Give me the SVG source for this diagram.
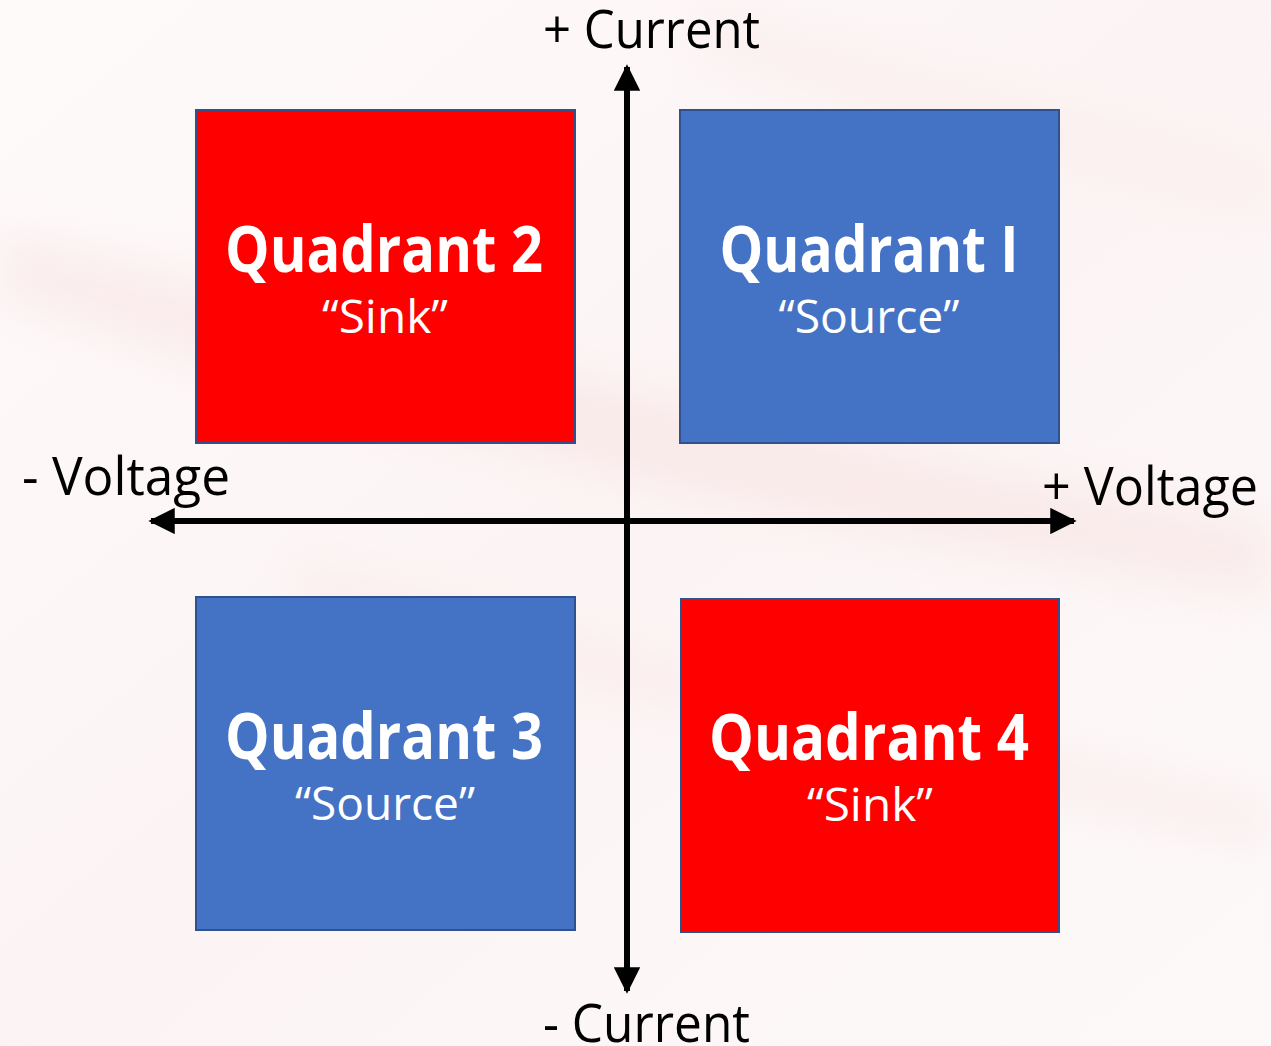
<svg xmlns="http://www.w3.org/2000/svg" width="1271" height="1046" viewBox="0 0 1271 1046">
  <defs>
    <linearGradient id="bg" x1="0" y1="0" x2="1" y2="1">
      <stop offset="0" stop-color="#fefafa"/>
      <stop offset="0.5" stop-color="#fcf4f4"/>
      <stop offset="1" stop-color="#fdf9f9"/>
    </linearGradient>
    <filter id="soft" x="-20%" y="-50%" width="140%" height="200%">
      <feGaussianBlur stdDeviation="20"/>
    </filter>
    <marker id="head" viewBox="0 0 10 10" refX="9" refY="5" markerWidth="4.4" markerHeight="4.4" orient="auto-start-reverse" markerUnits="strokeWidth">
      <path d="M0,0 L10,5 L0,10 z" fill="#000"/>
    </marker>
    <style>
      .box-red { fill: #ff0000; stroke: #2f528f; stroke-width: 2; }
      .box-blue { fill: #4472c4; stroke: #2f528f; stroke-width: 2; }
      .title { font-family: "Open Sans", "Noto Sans", sans-serif; font-weight: 700; font-size: 64px; fill: #ffffff; text-anchor: middle; }
      .sub { font-family: "Open Sans", "Noto Sans", sans-serif; font-weight: 400; font-size: 46px; fill: #ffffff; text-anchor: middle; }
      .axis-label { font-family: "Open Sans", "Noto Sans", sans-serif; font-weight: 400; font-size: 53px; fill: #000000; }
      .axis { stroke: #000; stroke-width: 6; fill: none; }
    </style>
  </defs>

  <!-- background with soft diagonal streaks -->
  <rect x="0" y="0" width="1271" height="1046" fill="url(#bg)"/>
  <g filter="url(#soft)" opacity="0.35">
    <path d="M0,230 C300,300 700,420 1271,520 L1271,600 C700,520 300,400 0,300 z" fill="#f5d8d8"/>
    <path d="M300,560 C600,640 900,720 1271,800 L1271,850 C900,770 600,690 300,610 z" fill="#f7e0e0"/>
    <path d="M700,0 C900,60 1100,120 1271,160 L1271,220 C1100,180 900,120 700,60 z" fill="#f9e6e6"/>
  </g>

  <!-- axes -->
  <g id="connectors">
    <line class="axis" x1="627" y1="521" x2="627" y2="67" marker-end="url(#head)"/>
    <line class="axis" x1="627" y1="521" x2="627" y2="991" marker-end="url(#head)"/>
    <line class="axis" x1="151" y1="521" x2="1074" y2="521" marker-start="url(#head)" marker-end="url(#head)"/>
  </g>

  <!-- axis labels -->
  <text class="axis-label" x="543" y="48" textLength="217" lengthAdjust="spacingAndGlyphs">+ Current</text>
  <text class="axis-label" x="543" y="1042" textLength="207" lengthAdjust="spacingAndGlyphs">- Current</text>
  <text class="axis-label" x="22" y="495" textLength="208" lengthAdjust="spacingAndGlyphs">- Voltage</text>
  <text class="axis-label" x="1042" y="505" textLength="216" lengthAdjust="spacingAndGlyphs">+ Voltage</text>

  <!-- quadrants -->
  <g id="q2">
    <rect class="box-red" x="196" y="110" width="379" height="333"/>
    <text class="title" x="384" y="272" textLength="318" lengthAdjust="spacingAndGlyphs">Quadrant 2</text>
    <text class="sub" x="385" y="333" textLength="126" lengthAdjust="spacingAndGlyphs">“Sink”</text>
  </g>
  <g id="q1">
    <rect class="box-blue" x="680" y="110" width="379" height="333"/>
    <text class="title" x="869" y="272" textLength="299" lengthAdjust="spacingAndGlyphs">Quadrant I</text>
    <text class="sub" x="869" y="333" textLength="181" lengthAdjust="spacingAndGlyphs">“Source”</text>
  </g>
  <g id="q3">
    <rect class="box-blue" x="196" y="597" width="379" height="333"/>
    <text class="title" x="384" y="759" textLength="318" lengthAdjust="spacingAndGlyphs">Quadrant 3</text>
    <text class="sub" x="385" y="820" textLength="180" lengthAdjust="spacingAndGlyphs">“Source”</text>
  </g>
  <g id="q4">
    <rect class="box-red" x="681" y="599" width="378" height="333"/>
    <text class="title" x="869" y="760" textLength="320" lengthAdjust="spacingAndGlyphs">Quadrant 4</text>
    <text class="sub" x="870" y="821" textLength="126" lengthAdjust="spacingAndGlyphs">“Sink”</text>
  </g>
</svg>
